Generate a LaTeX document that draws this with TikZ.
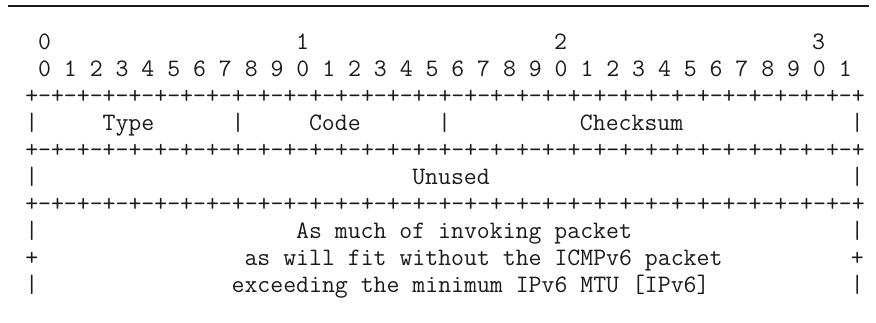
\documentclass[tikz,border=0pt]{standalone}
\usepackage{fontspec}
\definecolor{inkBlack}{HTML}{1A1A1A}
\newcommand{\bitRule}{+-+-+-+-+-+-+-+-+-+-+-+-+-+-+-+-+-+-+-+-+-+-+-+-+-+-+-+-+-+-+-+-+}
\newcommand{\bitDigits}{0 1 2 3 4 5 6 7 8 9 0 1 2 3 4 5 6 7 8 9 0 1 2 3 4 5 6 7 8 9 0 1}
\tikzset{
  ascii/.style={anchor=base west, inner sep=0pt, text=inkBlack,
                font=\ttfamily\fontsize{25.08}{27}\selectfont},
  topRule/.style={draw=inkBlack, line width=1.6pt},
}

\begin{document}
\begin{tikzpicture}[x=1pt, y=-1pt]
    \useasboundingbox (0,0) rectangle (876,322);
    \coordinate (ruleL) at (8,6);
    \coordinate (ruleR) at (869,6);
    \draw[topRule] (ruleL) -- (ruleR);
    % bit numbering (column c sits at x = 25.05 + 12.9 c)
    \node[ascii] (tens0) at ({25.05+12.9*1},49) {0};
    \node[ascii] (tens1) at ({25.05+12.9*21},49) {1};
    \node[ascii] (tens2) at ({25.05+12.9*41},49) {2};
    \node[ascii] (tens3) at ({25.05+12.9*61},49) {3};
    \node[ascii] (bits) at ({25.05+12.9*1},76) {\bitDigits};
    \node[ascii] (border1) at (25.05,103) {\bitRule};
    % Type / Code / Checksum
    \node[ascii] (barA) at (25.05,130) {|};
    \node[ascii] (type) at ({25.05+12.9*6},130) {Type};
    \node[ascii] (barB) at ({25.05+12.9*16},130) {|};
    \node[ascii] (code) at ({25.05+12.9*22},130) {Code};
    \node[ascii] (barC) at ({25.05+12.9*32},130) {|};
    \node[ascii] (checksum) at ({25.05+12.9*43},130) {Checksum};
    \node[ascii] (barD) at ({25.05+12.9*64},130) {|};
    \node[ascii] (border2) at (25.05,157) {\bitRule};
    % Unused
    \node[ascii] (barE) at (25.05,184) {|};
    \node[ascii] (unused) at ({25.05+12.9*30},184) {Unused};
    \node[ascii] (barF) at ({25.05+12.9*64},184) {|};
    \node[ascii] (border3) at (25.05,211) {\bitRule};
    % invoking packet
    \node[ascii] (barG) at (25.05,238) {|};
    \node[ascii] (body1) at ({25.05+12.9*21},238) {As much of invoking packet};
    \node[ascii] (barH) at ({25.05+12.9*64},238) {|};
    \node[ascii] (plusL) at (25.05,265) {+};
    \node[ascii] (body2) at ({25.05+12.9*17},265) {as will fit without the ICMPv6 packet};
    \node[ascii] (plusR) at ({25.05+12.9*64},265) {+};
    \node[ascii] (barI) at (25.05,292) {|};
    \node[ascii] (body3) at ({25.05+12.9*16},292) {exceeding the minimum IPv6 MTU [IPv6]};
    \node[ascii] (barJ) at ({25.05+12.9*64},292) {|};
\end{tikzpicture}
\end{document}
